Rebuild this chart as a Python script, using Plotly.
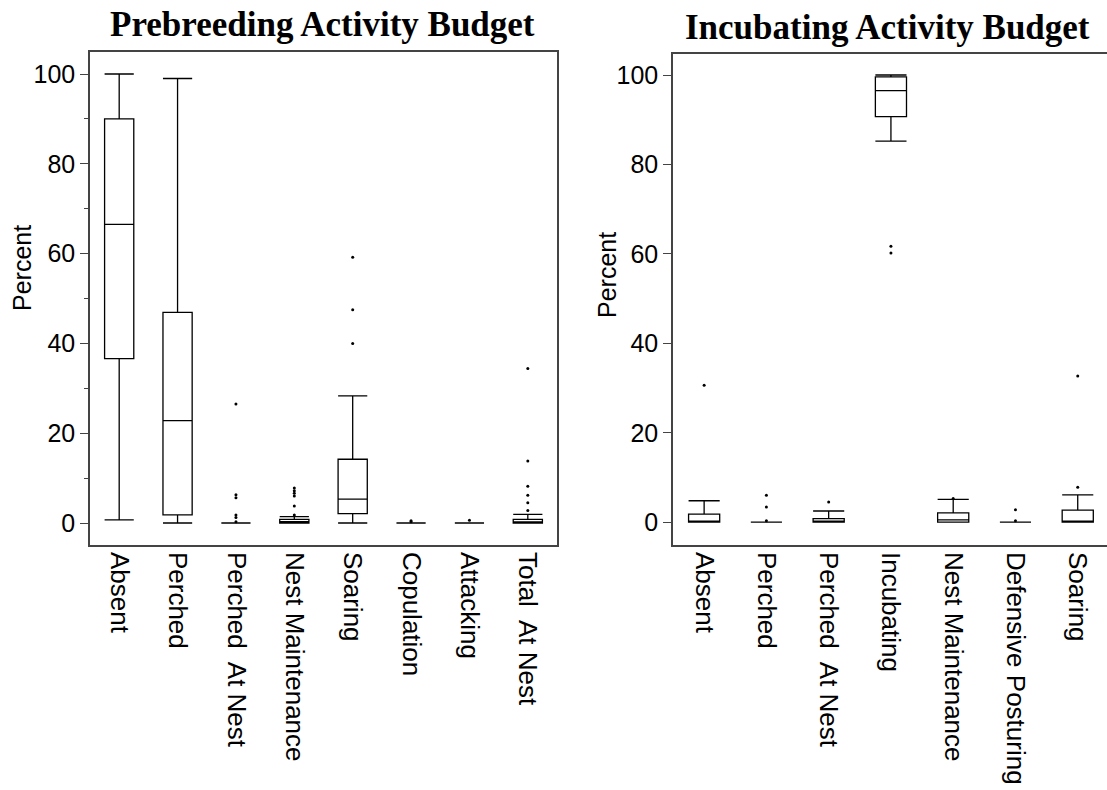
import plotly.graph_objects as go

# ---------------- data ----------------
pre_cats = ["Absent", "Perched", "Perched  At Nest", "Nest Maintenance", "Soaring",
            "Copulation", "Attacking", "Total  At Nest"]
pre_lower = [0.7, 0.0, 0.0, 0.0, 0.0, 0.0, 0.0, 0.0]
pre_q1 = [36.6, 1.8, 0.0, 0.0, 2.1, 0.0, 0.0, 0.0]
pre_median = [66.5, 22.8, 0.0, 0.3, 5.3, 0.0, 0.0, 0.2]
pre_q3 = [90.0, 46.9, 0.0, 0.8, 14.2, 0.0, 0.0, 0.8]
pre_upper = [100.0, 99.0, 0.0, 1.4, 28.3, 0.0, 0.0, 1.9]
pre_out_x = ["Perched  At Nest"] * 6 + ["Nest Maintenance"] * 6 + ["Soaring"] * 3 + \
            ["Copulation"] * 2 + ["Attacking"] + ["Total  At Nest"] * 6
pre_out_y = [26.5, 6.3, 5.6, 1.8, 1.2, 0.3,
             7.8, 7.2, 6.6, 6.0, 3.8, 1.8,
             59.2, 47.5, 40.0,
             0.3, 0.5,
             0.6,
             34.4, 13.8, 8.2, 6.2, 4.5, 2.8]

inc_cats = ["Absent", "Perched", "Perched  At Nest", "Incubating", "Nest Maintenance",
            "Defensive Posturing", "Soaring"]
inc_lower = [0.0, 0.0, 0.0, 85.2, 0.0, 0.0, 0.0]
inc_q1 = [0.0, 0.0, 0.0, 90.7, 0.0, 0.0, 0.0]
inc_median = [0.0, 0.0, 0.2, 96.5, 0.5, 0.0, 0.1]
inc_q3 = [1.8, 0.0, 0.8, 99.6, 2.1, 0.0, 2.7]
inc_upper = [4.8, 0.0, 2.5, 100.0, 5.1, 0.0, 6.1]
inc_out_x = ["Absent", "Perched", "Perched", "Perched", "Perched  At Nest",
             "Incubating", "Incubating", "Nest Maintenance",
             "Defensive Posturing", "Defensive Posturing", "Soaring", "Soaring"]
inc_out_y = [30.6, 6.0, 3.4, 0.3, 4.5, 61.7, 60.2, 5.3, 2.8, 0.3, 7.8, 32.7]

y_ticks = [0, 20, 40, 60, 80, 100]

# ---------------- figure ----------------
fig = go.Figure()

box_style = dict(width=0.5, whiskerwidth=1, fillcolor="white",
                 line=dict(color="black", width=1.3), boxpoints=False,
                 showlegend=False, hoverinfo="skip")

fig.add_trace(go.Box(x=pre_cats, q1=pre_q1, median=pre_median, q3=pre_q3,
                     lowerfence=pre_lower, upperfence=pre_upper,
                     xaxis="x", yaxis="y", **box_style))
fig.add_trace(go.Scatter(x=pre_out_x, y=pre_out_y, mode="markers",
                         marker=dict(color="black", size=3), showlegend=False,
                         xaxis="x", yaxis="y"))
fig.add_trace(go.Box(x=inc_cats, q1=inc_q1, median=inc_median, q3=inc_q3,
                     lowerfence=inc_lower, upperfence=inc_upper,
                     xaxis="x2", yaxis="y2", **box_style))
fig.add_trace(go.Scatter(x=inc_out_x, y=inc_out_y, mode="markers",
                         marker=dict(color="black", size=3), showlegend=False,
                         xaxis="x2", yaxis="y2"))

sans = "Liberation Sans, Arial"
xstyle = dict(type="category", showline=True, linecolor="#444", linewidth=1.5,
              mirror=True, ticks="", tickangle=90,
              tickfont=dict(family=sans, size=26, color="black"),
              showgrid=False, zeroline=False)
ystyle = dict(showline=True, linecolor="#444", linewidth=1.5,
              ticks="outside", ticklen=8, tickcolor="#444", tickwidth=1.3,
              tickvals=y_ticks, tickfont=dict(family=sans, size=25, color="black"),
              showgrid=False, zeroline=False)

fig.update_layout(
    width=1107, height=790,
    margin=dict(l=0, r=0, t=0, b=0),
    paper_bgcolor="white", plot_bgcolor="white",
    boxmode="overlay",
    xaxis=dict(domain=[90 / 1107, 557 / 1107], anchor="y",
               range=[-0.5, 7.5], **xstyle),
    yaxis=dict(domain=[(790 - 545) / 790, (790 - 52) / 790], anchor="x",
               range=[-4.9, 104.9], mirror=True,
               minor=dict(dtick=10, ticklen=4, ticks="outside", tickcolor="#444"),
               **ystyle),
    xaxis2=dict(domain=[673 / 1107, 1.0], anchor="y2",
                range=[-0.5, 6.47], **xstyle),
    yaxis2=dict(domain=[(790 - 545) / 790, (790 - 54) / 790], anchor="x2",
                range=[-5.1, 104.7], mirror=False, **ystyle),
    annotations=[
        dict(text="<b>Prebreeding Activity Budget</b>", x=322 / 1107, y=1 - 25 / 790,
             xref="paper", yref="paper", showarrow=False, xanchor="center", yanchor="middle",
             font=dict(family="Liberation Serif, Times New Roman", size=35, color="black")),
        dict(text="<b>Incubating Activity Budget</b>", x=887 / 1107, y=1 - 28 / 790,
             xref="paper", yref="paper", showarrow=False, xanchor="center", yanchor="middle",
             font=dict(family="Liberation Serif, Times New Roman", size=35, color="black")),
        dict(text="Percent", x=22 / 1107, y=1 - 268 / 790, textangle=-90,
             xref="paper", yref="paper", showarrow=False, xanchor="center", yanchor="middle",
             font=dict(family=sans, size=25, color="black")),
        dict(text="Percent", x=607 / 1107, y=1 - 275 / 790, textangle=-90,
             xref="paper", yref="paper", showarrow=False, xanchor="center", yanchor="middle",
             font=dict(family=sans, size=25, color="black")),
    ],
)

fig.write_html("out.html")
